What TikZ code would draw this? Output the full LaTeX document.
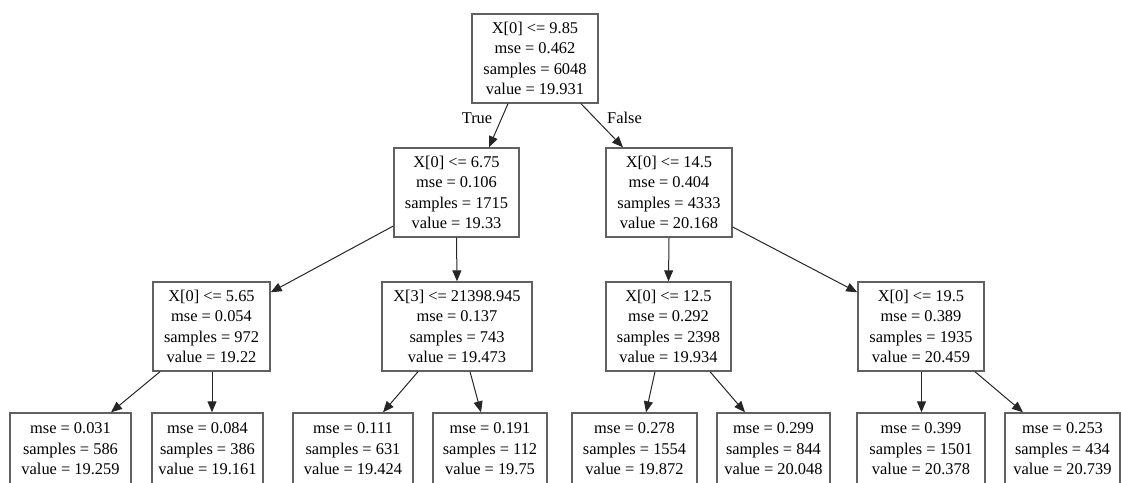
\documentclass[tikz,border=0pt]{standalone}
\usepackage{fontspec}
\setmainfont{Liberation Serif}
\usetikzlibrary{arrows.meta,calc}

\tikzset{
  split/.style={draw=black!62, line width=1.4pt, fill=white, align=center,
    inner xsep=5pt, inner ysep=0pt, minimum height=89pt,
    font=\fontsize{16.4}{20.5}\selectfont},
  leaf/.style={split, minimum height=72pt},
  edge/.style={draw=black!85, line width=1pt, -{Triangle[length=11pt,width=9pt]}},
  elabel/.style={inner sep=0pt, font=\fontsize{16.4}{20.5}\selectfont}
}

\begin{document}
\begin{tikzpicture}[x=1pt,y=1pt,yscale=-1,xscale=1]
        \useasboundingbox (0,0) rectangle (1121,482); %picture is cut at the bottom row

        % Root
        \node [split, minimum width=126pt] (root) at (535,58.5) {X[0] <= 9.85\\mse = 0.462\\samples = 6048\\value = 19.931};
        % Depth 1
        \node [split, minimum width=125pt] (t) at (456.5,192.5) {X[0] <= 6.75\\mse = 0.106\\samples = 1715\\value = 19.33};
        \node [split, minimum width=126pt] (f) at (669,192.5) {X[0] <= 14.5\\mse = 0.404\\samples = 4333\\value = 20.168};
        % Depth 2
        \node [split, minimum width=117pt] (tt) at (211.5,326.5) {X[0] <= 5.65\\mse = 0.054\\samples = 972\\value = 19.22};
        \node [split, minimum width=150pt] (tf) at (457,326.5) {X[3] <= 21398.945\\mse = 0.137\\samples = 743\\value = 19.473};
        \node [split, minimum width=125pt] (ft) at (668.5,326.5) {X[0] <= 12.5\\mse = 0.292\\samples = 2398\\value = 19.934};
        \node [split, minimum width=126pt] (ff) at (921,326.5) {X[0] <= 19.5\\mse = 0.389\\samples = 1935\\value = 20.459};
        % Leaves
        \node [leaf, minimum width=121pt] (ttt) at (70.5,449) {mse = 0.031\\samples = 586\\value = 19.259};
        \node [leaf, minimum width=111pt] (ttf) at (207.5,449) {mse = 0.084\\samples = 386\\value = 19.161};
        \node [leaf, minimum width=120pt] (tft) at (353,449) {mse = 0.111\\samples = 631\\value = 19.424};
        \node [leaf, minimum width=114pt] (tff) at (490,449) {mse = 0.191\\samples = 112\\value = 19.75};
        \node [leaf, minimum width=125pt] (ftt) at (634.5,449) {mse = 0.278\\samples = 1554\\value = 19.872};
        \node [leaf, minimum width=113pt] (ftf) at (773.5,449) {mse = 0.299\\samples = 844\\value = 20.048};
        \node [leaf, minimum width=128pt] (fft) at (921,449) {mse = 0.399\\samples = 1501\\value = 20.378};
        \node [leaf, minimum width=115pt] (fff) at (1062.5,449) {mse = 0.253\\samples = 434\\value = 20.739};

        % Edges
        \draw [edge] ($(root.south)+(-27,0)$) -- ($(t.north)+(32.5,0)$);
        \draw [edge] ($(root.south)+(46,0)$) -- ($(f.north)+(-46,0)$);
        \draw [edge] ($(t.west)+(0,33.5)$) -- ($(tt.north east)+(0,11)$);
        \draw [edge] (t.south) -- (tf.north);
        \draw [edge] (f.south) -- (ft.north);
        \draw [edge] ($(f.east)+(0,34.5)$) -- ($(ff.north west)+(0,11)$);
        \draw [edge] ($(tt.south)+(-51.5,0)$) -- ($(ttt.north)+(40.5,0)$);
        \draw [edge] ($(tt.south)+(0.5,0)$) -- ($(ttf.north)+(4.5,0)$);
        \draw [edge] ($(tf.south)+(-39,0)$) -- ($(tft.north)+(30,0)$);
        \draw [edge] ($(tf.south)+(13,0)$) -- ($(tff.north)+(-9,0)$);
        \draw [edge] ($(ft.south)+(-13.5,0)$) -- ($(ftt.north)+(11.5,0)$);
        \draw [edge] ($(ft.south)+(41.5,0)$) -- ($(ftf.north)+(-28.5,0)$);
        \draw [edge] ($(ff.south)+(0.5,0)$) -- ($(fft.north)+(0.5,0)$);
        \draw [edge] ($(ff.south)+(54,0)$) -- ($(fff.north)+(-39.5,0)$);

        % Text Node
        \node [elabel] (lbltrue) at (477,118) {True};
        % Text Node
        \node [elabel] (lblfalse) at (624.5,118) {False};

\end{tikzpicture}
\end{document}
